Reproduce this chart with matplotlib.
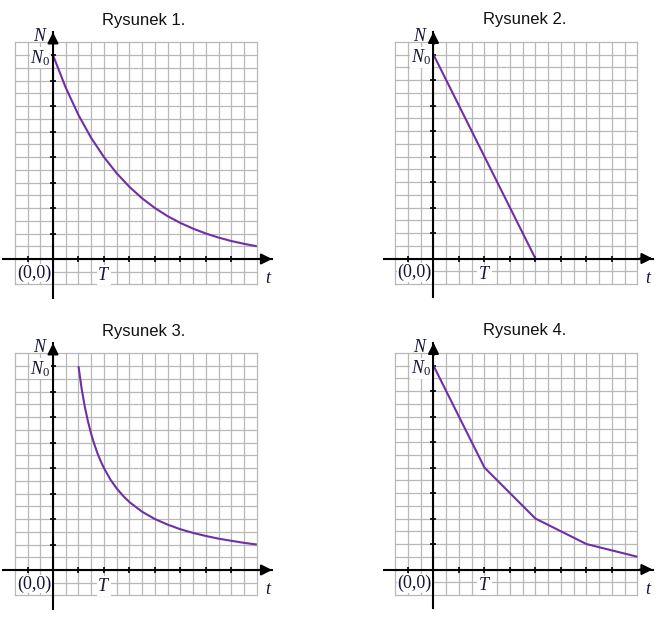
import numpy as np
import matplotlib
matplotlib.use("Agg")
import matplotlib.pyplot as plt

plt.rcParams['mathtext.fontset'] = 'custom'
plt.rcParams['mathtext.it'] = 'Liberation Serif:italic'
plt.rcParams['mathtext.rm'] = 'Liberation Serif'

# values, in grid cells (T = 4 cells, N0 = 16 cells)
titles = ["Rysunek 1.", "Rysunek 2.", "Rysunek 3.", "Rysunek 4."]

t1 = [0, 1, 2, 3, 4, 5, 6, 7, 8, 9, 10, 11, 12, 13, 14, 15, 16]
n1 = [16, 13.45, 11.3, 9.5, 8, 6.73, 5.66, 4.76, 4, 3.36, 2.83, 2.38, 2, 1.68, 1.41, 1.19, 1]

t2 = [0, 8]
n2 = [16, 0]

t3 = [2, 2.25, 2.5, 2.75, 3, 3.25, 3.5, 3.75, 4, 4.5, 5, 5.5, 6, 7, 8, 9, 10, 11, 12, 13,
      14, 15, 16]
n3 = [16, 14.22, 12.8, 11.64, 10.67, 9.85, 9.14, 8.53, 8, 7.11, 6.4, 5.82, 5.33, 4.57, 4,
      3.56, 3.2, 2.91, 2.67, 2.46, 2.29, 2.13, 2]

t4 = [0, 4, 8, 12, 16]
n4 = [16, 8, 4, 2, 1]

curves = [(t1, n1), (t2, n2), (t3, n3), (t4, n4)]

# pixel position of the origin of each panel
origins = [(53, 259), (433.5, 258.5), (53, 570), (433.5, 569.5)]

W, H = 668, 622
cell = 12.74
xmin, xmax = -3.9, 17.2
ymin, ymax = -3.05, 17.8

fig = plt.figure(figsize=(W / 100, H / 100), dpi=100)

txt_col = "#15153a"
grid_col = "#b8b8b8"
curve_col = "#7030a4"

for i in range(4):
    ox, oy = origins[i]
    left = (ox + xmin * cell) / W
    width = (xmax - xmin) * cell / W
    bottom = 1 - (oy - ymin * cell) / H
    height = (ymax - ymin) * cell / H
    ax = fig.add_axes([left, bottom, width, height])
    ax.set_xlim(xmin, xmax)
    ax.set_ylim(ymin, ymax)

    # grid 19 x 19 cells
    for g in range(-3, 17):
        ax.plot([g, g], [-2, 17], color=grid_col, lw=0.9, zorder=1)
    for g in range(-2, 18):
        ax.plot([-3, 16], [g, g], color=grid_col, lw=0.9, zorder=1)

    # axes through the origin
    for s in ["top", "right"]:
        ax.spines[s].set_visible(False)
    ax.spines["left"].set_position(("data", 0))
    ax.spines["bottom"].set_position(("data", 0))
    ax.spines["left"].set_linewidth(1.5)
    ax.spines["bottom"].set_linewidth(1.5)
    ax.spines["left"].set_zorder(4)
    ax.spines["bottom"].set_zorder(4)
    ax.set_xticks([-2, 2, 4, 6, 8, 10, 12, 14])
    ax.set_yticks([2, 4, 6, 8, 10, 12, 14, 16])
    ax.tick_params(direction="inout", length=5, width=1.2, labelbottom=False, labelleft=False)
    ax.patch.set_alpha(0)

    ax.annotate("", xy=(xmax, 0), xytext=(xmax - 1.0, 0),
                arrowprops=dict(arrowstyle="-|>", color="k", lw=1.5, mutation_scale=16,
                                shrinkA=0, shrinkB=0), annotation_clip=False, zorder=5)
    ax.annotate("", xy=(0, ymax), xytext=(0, ymax - 1.0),
                arrowprops=dict(arrowstyle="-|>", color="k", lw=1.5, mutation_scale=16,
                                shrinkA=0, shrinkB=0), annotation_clip=False, zorder=5)

    t, n = curves[i]
    ax.plot(t, n, color=curve_col, lw=1.5, zorder=3, solid_capstyle="butt")

    box = dict(facecolor="white", edgecolor="none", pad=0.5)
    ax.text(-1.0, 17.5, "$N$", fontsize=13, color=txt_col, ha="center", va="center")
    ax.text(-0.2, 15.8, "$N_0$", fontsize=13, color=txt_col, ha="right", va="center", bbox=box,
            zorder=6)
    ax.text(-1.5, -1.1, "(0,0)", fontsize=13, family="Liberation Serif", color=txt_col,
            ha="center", va="center", bbox=box, zorder=6)
    ax.text(4.0, -1.25, "$T$", fontsize=13, color=txt_col, ha="center", va="center", bbox=box,
            zorder=6)
    ax.text(16.9, -1.5, "$t$", fontsize=13, color=txt_col, ha="center", va="center")
    ax.text(7.15, 18.75, titles[i], fontsize=12, family="Liberation Sans", color="#111111",
            ha="center", va="center", clip_on=False)

fig.savefig("out.png", dpi=100)
